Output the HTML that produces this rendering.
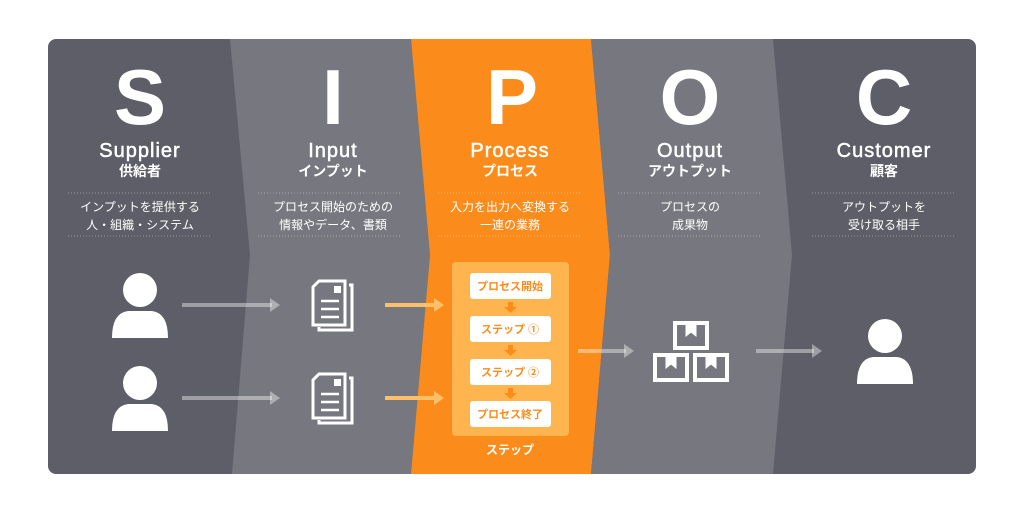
<!DOCTYPE html>
<html><head><meta charset="utf-8"><style>
html,body{margin:0;padding:0;background:#fff;}
svg{display:block;}
text{font-family:"Liberation Sans","Noto Sans CJK JP",sans-serif;fill:#fff;text-anchor:middle;}
</style></head><body>
<svg width="1024" height="512" viewBox="0 0 1024 512">
<defs>
<clipPath id="c"><rect x="48" y="39" width="928" height="435" rx="8"/></clipPath>
<g id="person"><circle cx="0" cy="-15" r="17"/><path d="M-28 33 Q-28 8 -12 6 L12 6 Q28 8 28 33 Z"/></g>
<g id="doc" fill="none" stroke="#fff" stroke-width="3">
<path d="M-14 -22 L12 -22 L12 22 L-20 22 L-20 -16 Z"/>
<path d="M16 -18 L19 -18 L19 27 L-14 27 L-14 24" />
<rect x="1" y="-17" width="7" height="7" fill="#fff" stroke="none"/>
<path d="M-12 -2 L6 -2 M-12 6 L6 6 M-12 14 L6 14" stroke-width="2.5"/>
</g>
<g id="box" fill="none" stroke="#fff" stroke-width="4"><rect x="-16" y="-12" width="32" height="25"/><path d="M-5 -12 L-5 1 L0 -3 L5 1 L5 -12" fill="#fff" stroke-width="1"/></g>
</defs>
<g clip-path="url(#c)">
<rect x="48" y="39" width="928" height="435" fill="#5e5e68"/>
<polygon points="230,39 411,39 430,255 411,474 232,474 250,255" fill="#77777f"/>
<polygon points="411,39 591,39 610,255 591,474 411,474 430,255" fill="#fb8c1c"/>
<polygon points="591,39 773,39 792,255 773,474 591,474 610,255" fill="#77777f"/>
</g>
<g font-weight="bold" font-size="78">
<text x="140" y="124">S</text><text x="333" y="124">I</text><text x="512" y="124">P</text><text x="690" y="124">O</text><text x="884" y="124">C</text>
</g>
<g font-size="20" stroke="#fff" stroke-width="0.5" letter-spacing="1">
<text x="140" y="157">Supplier</text><text x="333" y="157">Input</text><text x="510" y="157">Process</text><text x="690" y="157">Output</text><text x="884" y="157">Customer</text>
</g>
<g font-size="14" font-weight="bold">
<text x="140" y="176">供給者</text><text x="333" y="176">インプット</text><text x="510" y="176">プロセス</text><text x="690" y="176">アウトプット</text><text x="884" y="176">顧客</text>
</g>
<g stroke="rgba(255,255,255,0.35)" stroke-width="1" stroke-dasharray="1,2">
<path d="M68 193H212M68 236H212M258 193H402M258 236H402M438 193H582M438 236H582M618 193H762M618 236H762M812 193H956M812 236H956"/>
</g>
<g font-size="12">
<text x="140" y="211">インプットを提供する</text><text x="140" y="229">人・組織・システム</text>
<text x="333" y="211">プロセス開始のための</text><text x="333" y="229">情報やデータ、書類</text>
<text x="510" y="211">入力を出力へ変換する</text><text x="510" y="229">一連の業務</text>
<text x="690" y="211">プロセスの</text><text x="690" y="229">成果物</text>
<text x="884" y="211">アウトプットを</text><text x="884" y="229">受け取る相手</text>
</g>
<g fill="#fff">
<use href="#person" transform="translate(140,305)"/>
<use href="#person" transform="translate(140,398)"/>
<use href="#person" transform="translate(885,351)"/>
</g>
<use href="#doc" transform="translate(333,303)"/>
<use href="#doc" transform="translate(333,396)"/>
<g stroke="rgba(255,255,255,0.4)" stroke-width="4" fill="none">
<path d="M182 305H272M182 398H272M578 351H626M756 351H814"/>
</g>
<g fill="rgba(255,255,255,0.4)">
<polygon points="270,298 280,305 270,312"/><polygon points="270,391 280,398 270,405"/>
<polygon points="624,344 634,351 624,358"/><polygon points="812,344 822,351 812,358"/>
</g>
<g stroke="#fdc06a" stroke-width="4"><path d="M385 305H436M385 398H436"/></g>
<g fill="#fdc06a"><polygon points="434,298 444,305 434,312"/><polygon points="434,391 444,398 434,405"/></g>
<rect x="452" y="262" width="117" height="174" rx="4" fill="#ffb54f"/>
<g fill="#fff"><rect x="470" y="273" width="81" height="26" rx="3"/><rect x="470" y="316" width="81" height="26" rx="3"/><rect x="470" y="359" width="81" height="26" rx="3"/><rect x="470" y="401" width="81" height="26" rx="3"/></g>
<g fill="#fb8c1c"><path d="M508 302h5v5h4l-6.5 6l-6.5-6h4z"/><path d="M508 345h5v5h4l-6.5 6l-6.5-6h4z"/><path d="M508 388h5v5h4l-6.5 6l-6.5-6h4z"/></g>
<g font-size="11" font-weight="bold">
<text x="510" y="290" style="fill:#fb8c1c">プロセス開始</text><text x="510" y="333" style="fill:#fb8c1c">ステップ ①</text><text x="510" y="376" style="fill:#fb8c1c">ステップ ②</text><text x="510" y="418" style="fill:#fb8c1c">プロセス終了</text>
</g>
<text x="510" y="454" font-size="12" font-weight="bold">ステップ</text>
<use href="#box" transform="translate(691,335)"/>
<use href="#box" transform="translate(671,367)"/>
<use href="#box" transform="translate(711,367)"/>
</svg>
</body></html>
